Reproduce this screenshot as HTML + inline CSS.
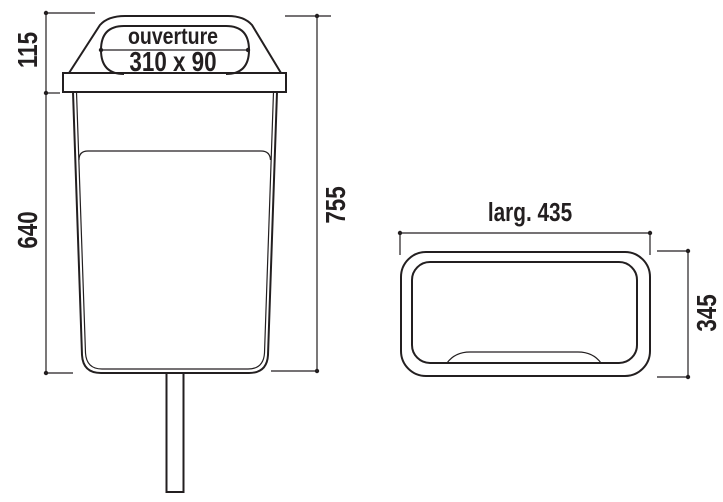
<!DOCTYPE html>
<html><head><meta charset="utf-8"><style>
html,body{margin:0;padding:0;background:#fff;}
svg{display:block}
text{font-family:"Liberation Sans Narrow","Liberation Sans",sans-serif;fill:#231f20;font-weight:bold;}
</style></head><body>
<svg width="723" height="502" viewBox="0 0 723 502" xmlns="http://www.w3.org/2000/svg">
<g stroke="#231f20" fill="none" stroke-width="1.2">
 <line x1="46" y1="13" x2="46" y2="373"/>
 <line x1="46" y1="13" x2="95" y2="13"/>
 <line x1="46" y1="93" x2="60" y2="93"/>
 <line x1="46" y1="373" x2="73" y2="373"/>
 <line x1="317" y1="16" x2="317" y2="371"/>
 <line x1="285" y1="16" x2="331" y2="16"/>
 <line x1="271" y1="371" x2="317" y2="371"/>
</g>
<g fill="#231f20">
 <circle cx="46" cy="13" r="2.2"/><circle cx="46" cy="93" r="2.2"/><circle cx="46" cy="373" r="2.2"/>
 <circle cx="317" cy="16" r="2.2"/><circle cx="317" cy="371" r="2.2"/>
 <circle cx="101" cy="50" r="2.2"/><circle cx="248" cy="50" r="2.2"/>
 <circle cx="400" cy="233" r="2.2"/><circle cx="650" cy="233" r="2.2"/>
 <circle cx="688" cy="251" r="2.2"/><circle cx="688" cy="377" r="2.2"/>
</g>
<g stroke="#231f20" fill="none" stroke-width="2">
 <path d="M69,73 L100,25 Q108,16 125,16 L228,16 Q244,16 252,25 L281,73"/>
 <path d="M124,74 Q101,74 101,50 Q101,26 124,26 L226,26 Q249,26 249,50 Q249,74 226,74"/>
 <rect x="63" y="73" width="223" height="19"/>
 <path d="M73,92 L82,355 Q83,373 101,373 L249,373 Q267,373 268,355 L277,92"/>
 <rect x="166.5" y="373" width="17" height="119"/>
 <rect x="401" y="252" width="249" height="124" rx="25"/>
 <rect x="412" y="262" width="225" height="101" rx="18"/>
</g>
<g stroke="#231f20" fill="none" stroke-width="1.2">
 <line x1="101" y1="50" x2="248" y2="50"/>
 <path d="M76.5,92 L85.5,353 Q86.5,369 102,369 L248,369 Q263.5,369 264.5,353 L273.5,92"/>
 <path d="M79,160 Q79,151 88,151 L261,151 Q270,151 270.5,160"/>
 <path d="M447,363 Q455,352 470,352 L578,352 Q593,352 601,363"/>
 <line x1="400" y1="233" x2="650" y2="233"/>
 <line x1="400" y1="233" x2="400" y2="255"/>
 <line x1="650" y1="233" x2="650" y2="255"/>
 <line x1="657" y1="251" x2="688" y2="251"/>
 <line x1="657" y1="377" x2="688" y2="377"/>
 <line x1="688" y1="251" x2="688" y2="377"/>
</g>
<text font-size="23" text-anchor="middle" transform="translate(173 44) scale(0.85 1)">ouverture</text>
<text font-size="28" text-anchor="middle" transform="translate(173 71) scale(0.8 1)">310 x 90</text>
<text font-size="28" text-anchor="middle" transform="translate(37 50) rotate(-90) scale(0.8 1)">115</text>
<text font-size="28" text-anchor="middle" transform="translate(37 230) rotate(-90) scale(0.8 1)">640</text>
<text font-size="28" text-anchor="middle" transform="translate(345 205) rotate(-90) scale(0.8 1)">755</text>
<text font-size="28" text-anchor="middle" transform="translate(716 313) rotate(-90) scale(0.8 1)">345</text>
<text font-size="26" text-anchor="middle" transform="translate(530 221) scale(0.8 1)">larg. 435</text>
</svg>
</body></html>
